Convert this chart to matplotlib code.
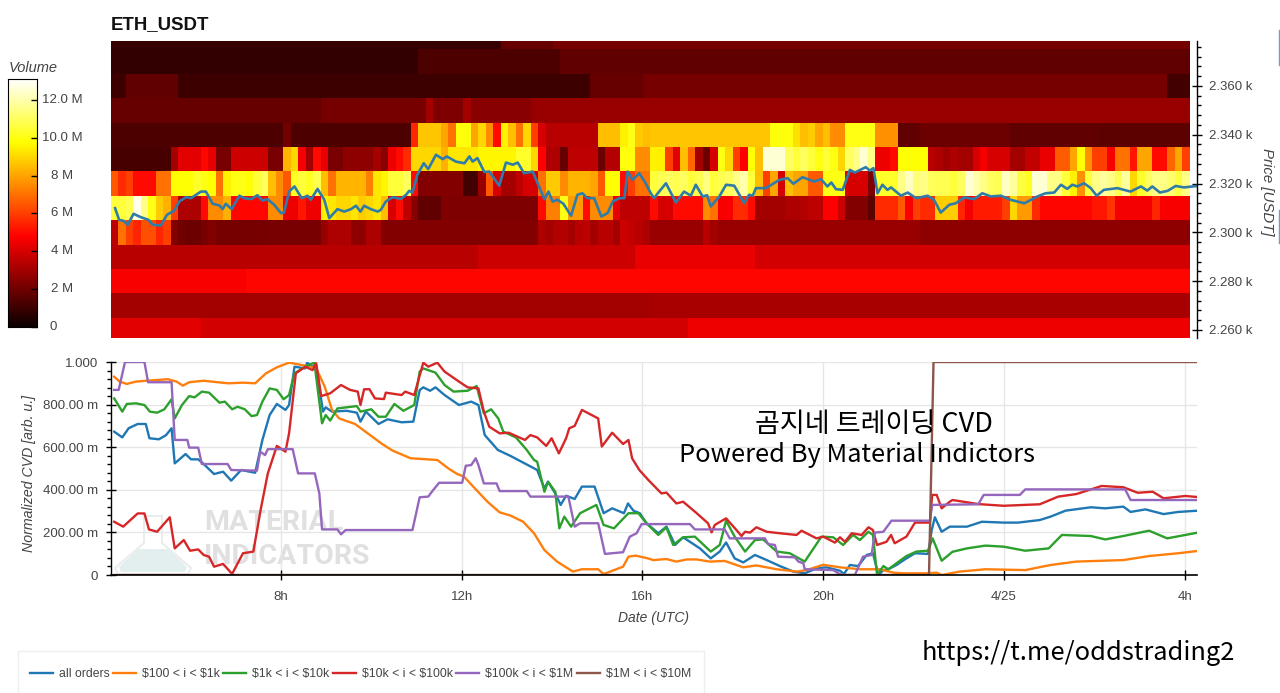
import numpy as np
import matplotlib
matplotlib.use("Agg")
import matplotlib.pyplot as plt
from matplotlib.lines import Line2D
from matplotlib.patches import Polygon, Rectangle
from matplotlib.ticker import MultipleLocator

W, H = 1280, 693
plt.rcParams['font.family'] = ['Liberation Sans', 'DejaVu Sans']

# --- heatmap volumes, in millions, one row per price level, one value per 10 min
price_levels = [2260, 2270, 2280, 2290, 2300, 2310, 2320, 2330, 2340, 2350, 2360, 2370, 2380]

vol_2380 = [0.9]*52 + [1.8]*7 + [2.1]*85
vol_2370 = [0.8]*41 + [1.3]*19 + [1.7]*84
vol_2360 = [1.0]*2 + [1.7]*7 + [1.0]*55 + [1.8]*7 + [2.1]*70 + [1.1]*3
vol_2350 = [1.8]*28 + [2.1]*14 + [3.0] + [2.3]*4 + [3.0] + [2.5]*8 + [2.8]*88
vol_2340 = ([1.3]*23 + [2.0] + [1.3]*12
            + [1.3, 1.3, 1.3, 1.3, 5.5, 8.6, 8.6, 8.6, 8.0, 7.0, 9.9, 9.9, 8.0, 9.0, 7.5, 5.0, 9.5, 8.5,
               7.0, 9.0, 6.0, 4.0] + [3.4]*7 + [8.5, 8.5, 8.5, 9.5, 10, 8.7, 8.5]
            + [8.6]*16 + [9.9, 9.9, 9.9, 9.2, 8.5, 8.8, 8.0, 8.5, 7.5, 7.5, 10, 10, 10, 10, 7.6, 7.6, 7.6, 1.7, 1.7, 1.7]
            + [1.9]*12 + [1.7]*12 + [1.6]*12)
vol_2330 = ([1.2]*8 + [3, 4.2, 4.2, 4.2, 4.9, 4.3, 2.2, 2.2] + [3.8]*5
            + [2.2, 2.2, 8.3, 9, 4.6, 3.0, 5, 4.3, 2.2, 2.2, 2.6, 2.6, 2.6, 2.6, 3.0]
            + [2.5, 4.5, 5, 5.6, 9, 9, 9, 9, 8.2, 9.3, 9.3, 9.3, 9.3] + [9.6]*5
            + [10.3, 10.3, 9, 4.8, 3.2, 3.2, 1.8, 3.5, 3.5, 3.5, 3.5, 1.9, 3.3, 3.3, 9.9, 9.9, 7.5, 7.5]
            + [9.5, 9.5, 6, 4.2, 8.5, 6.8, 3, 1.9, 4, 10, 9, 6, 4.8, 9.8, 8.5, 12.5, 12.5, 12.5,
               11, 10.5, 11, 10.5, 10, 10.5, 10, 9, 11, 11.5, 12.5, 11.5, 4.5, 4.5, 5, 9.8, 9.8, 9.8]
            + [9.8, 3.4, 3.2, 2.9, 3.2, 3.0, 3.0, 4, 4.6, 4, 4, 4, 3, 3, 3.6, 3.6, 4.4, 4.4,
               6.6, 6.6, 8, 9.8, 7.6, 6, 6, 4.7, 7, 7, 5.2, 8, 8, 5, 5, 6.8, 8, 6])
vol_2320 = ([6.5, 5.6, 6, 5, 5, 5, 7, 7, 9.8, 9.8, 9.8, 10.3, 10, 9.8, 7, 9.5, 10, 10,
             9.8, 10.5, 11, 8.5, 7.5, 6.5, 10.2, 10.5, 10.2, 10.8, 8.5, 7, 8.3, 8.3, 8.3, 8.3, 7.3, 9.3]
            + [9.6, 10.5, 10.5, 11, 5] + [2.4]*6
            + [1.1, 1.1, 2.8, 6.5, 4, 3, 3, 3.5, 4, 4, 7, 8.7, 8.7, 7.5, 8.3, 8.3, 8.3, 8, 6.5, 9.8, 9.8, 5, 6, 7, 7]
            + [10.5, 10.8, 11, 10.8, 11, 10.5, 10.8, 11.5, 10.5, 10.8, 11, 11.5, 12, 10.5, 8.5, 6, 8, 4,
               8.5, 8, 8, 6.5, 6.5, 10, 10, 10, 4, 4, 4, 2.3, 10.3, 10.3, 10.3, 11.5, 12.3, 11.3]
            + [11.5, 11, 10.8, 10.8, 10.5, 11, 12.5, 12, 11.5, 11, 10.8, 12.3, 11.8, 10.6, 10.2, 12.5, 12.5, 11.5,
               11.5, 10.5, 9.5, 7.6, 10.5, 11.5, 11.8, 11.5, 10.8, 11.8, 9, 10.3, 11, 11.5, 11.5, 11.2, 10.6, 11.5])
vol_2310 = ([10.5, 10.5, 10.8, 12.8, 11.5, 10, 8.7, 8.2, 6, 3.2, 3.2, 3.2, 5, 7.5, 7.5, 8.2] + [4.9]*5
            + [7.5, 7.5, 4.5, 4.5, 5.2, 4.5, 4.5, 9.5, 9.3, 9, 9, 9.3, 8.8, 9, 9.3]
            + [8.5, 4, 5, 3.5, 2.5, 1.7, 1.7, 1.7] + [2.3]*13
            + [5, 7.3, 7.3, 10, 7.8, 7.8, 5, 7.5, 7.5, 7.5, 4.3, 3.5, 3.5, 3.5, 3.5]
            + [5, 4, 4, 5, 5, 5, 5, 7.5, 7, 4.7, 4.7, 5.6, 5.6, 5, 3, 3, 3, 3, 3.2, 3.2, 3.3, 3.5, 3.5,
               4.8, 4.8, 3.8, 2.4, 2.4, 2.4, 1.6, 5.6, 5.6, 5.6, 6.5, 4.7, 6]
            + [5.6, 5.6, 8.8, 8.8, 8.8, 5.5, 4.6, 5.3, 5.3, 5.3, 5.3, 6, 9, 7.8, 7.8, 5.6] + [4.9]*7
            + [5.2, 5.2, 5.8] + [4.6]*5 + [5.5] + [4.7]*4)
vol_2300 = ([3.5, 7, 6, 5.5, 6.3, 6.3, 5.5, 6, 2.4, 2, 1.9, 1.9, 2.2, 2.4] + [2.1]*7 + [2.2]*7
            + [2.8, 3.2, 3.2, 3.2, 2.6, 2.6, 3.2, 3.2]
            + [2.4]*21 + [3.2, 3.0, 3.3, 3.3, 3.0, 3.4, 3.5, 3.0, 3.4, 3.4, 3.0, 3.8, 3.6, 3.4, 3.2]
            + [2.8]*7 + [3.4, 3.0] + [2.8]*27 + [2.6]*36)
vol_2290 = [3.4]*49 + [3.8]*21 + [4.4]*16 + [3.9]*58
vol_2280 = [4.7]*18 + [4.9]*126
vol_2270 = [3.0]*72 + [3.1]*72
vol_2260 = [4.2]*12 + [3.9]*65 + [4.5]*67

# --- price line
price_hours = [4.33, 4.42, 4.52, 4.61, 4.74, 4.90, 5.07, 5.16, 5.34, 5.48, 5.64, 5.75, 5.90, 6.01, 6.23, 6.34,
               6.49, 6.64, 6.71, 6.78, 6.91, 7.08, 7.19, 7.34, 7.48, 7.59, 7.70, 7.85, 8.00, 8.07, 8.18, 8.30,
               8.46, 8.59, 8.66, 8.81, 8.96, 9.07, 9.25, 9.40, 9.55, 9.66, 9.76, 9.84, 9.99, 10.14,
               10.21, 10.32, 10.47, 10.65, 10.77, 10.84, 10.91, 11.02, 11.16, 11.26, 11.43, 11.58, 11.67, 11.87,
               12.06, 12.17, 12.24, 12.35, 12.50, 12.61, 12.83, 12.98, 13.13, 13.24, 13.38, 13.57, 13.68, 13.83,
               13.92, 14.01, 14.12, 14.25, 14.42, 14.56, 14.67, 14.78, 14.93, 15.09, 15.23, 15.34, 15.49, 15.60,
               15.67, 15.78, 15.93, 16.07, 16.19, 16.26, 16.33, 16.52, 16.74, 16.92, 17.07, 17.18, 17.33, 17.43,
               17.51, 17.70, 17.85, 18.03, 18.25, 18.36, 18.44, 18.51, 18.73, 19.03, 19.21, 19.34, 19.54, 19.80,
               19.95, 20.09, 20.18, 20.28, 20.43, 20.59, 20.70, 20.94, 21.03, 21.11, 21.20, 21.31, 21.42, 21.50,
               21.72, 21.87, 22.05, 22.16, 22.31, 22.45, 22.60, 22.79, 22.93, 23.12, 23.34, 23.52, 23.71, 23.93,
               24.15, 24.45, 24.74, 24.92, 25.11, 25.26, 25.40, 25.51, 25.62, 25.77, 25.92, 26.05, 26.21, 26.51,
               26.80, 27.03, 27.17, 27.28, 27.45, 27.62, 27.80, 27.98, 28.27]
price_usdt = [2309.9, 2305.1, 2304.7, 2303.1, 2307.6, 2306.2, 2305.1, 2303.1, 2302.8, 2307.2, 2308.9, 2312.6,
              2314.4, 2314.0, 2316.7, 2316.7, 2311.7, 2311.0, 2309.5, 2311.7, 2309.5, 2315.0, 2314.0, 2313.6,
              2315.2, 2313.0, 2313.6, 2311.3, 2307.9, 2308.1, 2316.7, 2318.8, 2314.0, 2315.0, 2313.3, 2317.8,
              2313.3, 2305.8, 2309.5, 2308.5, 2309.5, 2310.9, 2308.5, 2310.9, 2309.5, 2308.5,
              2309.2, 2312.6, 2314.4, 2313.7, 2315.4, 2317.0, 2316.3, 2323.6, 2328.3, 2325.9, 2331.8, 2330.0,
              2331.1, 2329.0, 2328.3, 2331.1, 2329.0, 2330.4, 2324.7, 2324.9, 2319.1, 2328.6, 2327.7, 2328.6,
              2324.2, 2324.9, 2320.1, 2313.6, 2316.7, 2312.6, 2313.3, 2311.7, 2306.8, 2315.4, 2316.0, 2314.0,
              2314.0, 2306.5, 2307.9, 2312.6, 2314.0, 2314.0, 2324.9, 2321.5, 2324.2, 2320.1, 2315.8, 2314.0,
              2315.8, 2320.1, 2312.2, 2316.7, 2315.0, 2319.5, 2314.7, 2315.2, 2310.6, 2314.7, 2319.5, 2319.1,
              2312.0, 2315.4, 2315.0, 2318.1, 2318.1, 2321.5, 2322.2, 2319.9, 2322.6, 2320.8, 2321.8, 2318.8,
              2320.4, 2317.7, 2317.4, 2325.6, 2324.5, 2326.7, 2325.3, 2326.3, 2316.0, 2319.5, 2317.4, 2318.4,
              2315.0, 2316.3, 2314.0, 2314.4, 2315.0, 2313.3, 2308.1, 2311.3, 2311.9, 2314.3, 2313.6, 2316.0,
              2314.7, 2315.0, 2313.3, 2311.9, 2314.7, 2316.0, 2316.3, 2319.5, 2317.8, 2319.5, 2318.8, 2320.1,
              2318.1, 2315.0, 2317.4, 2318.1, 2316.7, 2318.8, 2317.1, 2318.8, 2316.3, 2317.0, 2319.0, 2318.4, 2319.0]

# --- normalized CVD series
all_hours = [4.31, 4.49, 4.63, 4.83, 5.01, 5.09, 5.3, 5.46, 5.58, 5.65, 5.89, 6.01, 6.17, 6.29, 6.52, 6.72, 6.9,
             7.12, 7.43, 7.59, 7.75, 7.91, 8.1, 8.18, 8.3, 8.54, 8.58, 8.7, 8.78, 8.93, 8.99, 9.13, 9.45, 9.68,
             9.76, 9.88, 10.16, 10.36, 10.67, 10.93, 11.07, 11.15, 11.3, 11.42, 11.62, 11.94, 12.21, 12.37, 12.51,
             12.8, 13.08, 13.67, 13.83, 13.91, 14.07, 14.19, 14.31, 14.5, 14.66, 14.94, 15.14, 15.33, 15.59, 15.68,
             15.8, 15.94, 16.09, 16.35, 16.53, 16.72, 16.9, 17.27, 17.51, 17.71, 17.85, 18.04, 18.23, 18.49, 18.75,
             19.04, 19.34, 19.59, 19.85, 20.07, 20.37, 20.46, 20.59, 20.77, 20.96, 21.1, 21.22, 21.33, 21.44, 21.62,
             21.84, 22.03, 22.32, 22.4, 22.47, 22.62, 22.8, 22.86, 23.18, 23.51, 23.99, 24.31, 24.79, 25.03, 25.36,
             25.92, 26.24, 26.64, 26.8, 27.13, 27.53, 27.85, 28.29]
all_cvd = [.673, .646, .689, .709, .709, .642, .637, .657, .689, .524, .568, .543, .543, .521, .474, .485, .443,
           .493, .480, .634, .751, .803, .775, .798, .978, .970, .997, .978, .986, .767, .787, .767, .771, .762,
           .720, .767, .709, .731, .717, .720, .868, .881, .865, .881, .845, .798, .814, .798, .657,
           .587, .559, .493, .407, .438, .383, .329, .372, .357, .415, .415, .290, .313, .290, .336,
           .302, .290, .243, .196, .227, .141, .177, .125, .078, .110, .153, .078, .059, .094, .070,
           .042, .016, .008, .031, .036, .020, .005, .047, .042, .094, .102, .000, .023, .027, .047,
           .078, .102, .099, .211, .271, .203, .227, .227, .227, .250, .246, .246, .258, .274, .302,
           .318, .313, .321, .296, .308, .286, .296, .302]

small_hours = [4.31, 4.43, 4.59, 4.79, 5.02, 5.5, 5.69, 5.83, 5.97, 6.29, 6.6, 6.84, 7.16, 7.43, 7.67, 7.91, 8.18,
               8.46, 8.66, 8.78, 8.97, 9.13, 9.29, 9.64, 9.92, 10.24, 10.47, 10.87, 11.46, 11.7, 11.9, 12.05, 12.29,
               12.57, 12.84, 13.08, 13.36, 13.6, 13.83, 14.11, 14.46, 14.66, 15.02, 15.14, 15.37, 15.57, 15.69, 15.85,
               16.12, 16.24, 16.53, 16.75, 16.98, 17.2, 17.49, 17.82, 18.23, 18.52, 18.97, 19.41, 19.63, 20.0, 20.37,
               20.81, 21.25, 21.55, 21.77, 22.28, 22.51, 22.62, 23.02, 23.59, 24.47, 25.03, 25.6, 26.64, 27.21, 27.85, 28.29]
small_cvd = [.931, .908, .897, .908, .912, .919, .908, .889, .905, .912, .905, .900, .903, .900, .947, .975, .997,
             .986, .978, .970, .884, .775, .735, .709, .665, .615, .584, .548, .540, .501, .474, .462, .407,
             .344, .294, .279, .250, .196, .117, .063, .016, .027, .027, .004, .023, .039, .086, .091,
             .078, .070, .075, .063, .073, .073, .063, .066, .036, .045, .027, .016, .023, .048, .036,
             .027, .027, .011, .008, .008, .011, .000, .016, .027, .023, .047, .063, .070, .089, .102, .113]

mid_hours = [4.31, 4.49, 4.59, 4.79, 4.98, 5.1, 5.26, 5.42, 5.58, 5.65, 5.81, 5.97, 6.09, 6.25, 6.41, 6.64, 6.76,
             6.92, 7.04, 7.2, 7.35, 7.47, 7.59, 7.75, 7.91, 8.06, 8.18, 8.3, 8.54, 8.74, 8.91, 8.99, 9.09, 9.25,
             9.68, 9.76, 10, 10.16, 10.32, 10.51, 10.71, 10.95, 11.07, 11.15, 11.42, 11.62, 11.82, 12.13, 12.33,
             12.49, 12.65, 12.81, 12.92, 13.2, 13.44, 13.6, 13.67, 13.83, 13.91, 14.07, 14.16, 14.27, 14.42, 14.62,
             14.98, 15.14, 15.37, 15.49, 15.69, 15.91, 16.09, 16.35, 16.53, 16.68, 16.9, 17.16, 17.51, 17.71, 17.85,
             18.04, 18.27, 18.49, 18.67, 18.97, 19.26, 19.59, 19.96, 20.22, 20.44, 20.66, 20.81, 21.0, 21.1, 21.19,
             21.33, 21.44, 21.62, 21.84, 22.06, 22.32, 22.42, 22.62, 22.86, 23.18, 23.59, 23.99, 24.47, 24.99,
             25.28, 25.92, 26.24, 26.64, 27.21, 27.61, 28.29]
mid_cvd = [.829, .767, .803, .806, .798, .767, .762, .778, .825, .735, .798, .840, .834, .861, .856, .809, .814,
           .778, .790, .778, .746, .751, .814, .876, .869, .825, .845, .947, .978, .997, .712, .751, .725, .782,
           .793, .767, .778, .743, .743, .803, .771, .798, .955, .970, .950, .892, .861, .865, .887,
           .759, .778, .735, .673, .646, .587, .540, .532, .391, .438, .391, .219, .274, .227, .290,
           .329, .235, .219, .246, .290, .290, .243, .188, .224, .141, .177, .180, .110, .141, .255,
           .180, .110, .164, .167, .110, .102, .063, .180, .177, .141, .188, .164, .203, .188, .000,
           .042, .027, .055, .089, .110, .114, .172, .067, .109, .125, .138, .133, .114, .125,
           .188, .183, .167, .183, .208, .172, .199]

large_hours = [4.31, 4.51, 4.67, 4.83, 4.98, 5.08, 5.26, 5.54, 5.65, 5.85, 5.99, 6.17, 6.29, 6.41, 6.52, 6.72, 6.92,
               7.16, 7.39, 7.55, 7.71, 7.91, 8.1, 8.18, 8.33, 8.54, 8.7, 8.78, 8.89, 9.09, 9.33, 9.53, 9.7, 9.76,
               9.84, 9.96, 10.08, 10.28, 10.32, 10.67, 10.75, 10.95, 11.15, 11.26, 11.46, 11.62, 11.94, 12.13, 12.37,
               12.49, 12.61, 12.84, 13.04, 13.4, 13.52, 13.67, 13.87, 13.99, 14.15, 14.31, 14.38, 14.5, 14.66, 15.02,
               15.1, 15.33, 15.57, 15.69, 15.77, 15.93, 16.13, 16.42, 16.53, 16.75, 16.9, 17.2, 17.45, 17.53, 17.6,
               17.85, 18.08, 18.19, 18.27, 18.38, 18.52, 18.75, 19.04, 19.41, 19.52, 19.85, 20.0, 20.26, 20.37, 20.48,
               20.63, 20.85, 21.0, 21.1, 21.19, 21.4, 21.5, 21.58, 21.84, 22.03, 22.36, 22.41, 22.51, 22.62, 22.8,
               22.86, 23.43, 23.99, 24.79, 25.2, 25.6, 26.16, 26.64, 26.96, 27.29, 27.53, 28.01, 28.29]
large_cvd = [.250, .227, .258, .289, .289, .214, .203, .271, .125, .164, .114, .120, .094, .086, .039, .052, .005,
             .102, .110, .305, .477, .606, .579, .665, .947, .978, .962, .994, .840, .853, .892, .869, .861, .798,
             .872, .872, .829, .826, .856, .845, .861, .845, .997, .978, .997, .955, .908, .881, .876,
             .767, .696, .665, .668, .634, .657, .646, .606, .642, .571, .642, .689, .700, .775, .735,
             .603, .668, .615, .634, .548, .493, .446, .383, .387, .336, .344, .290, .243, .200, .235,
             .266, .211, .183, .203, .199, .224, .203, .196, .188, .208, .172, .180, .152, .177, .156,
             .196, .188, .224, .211, .141, .156, .188, .149, .180, .246, .246, .376, .376, .313, .344,
             .352, .333, .325, .332, .368, .380, .418, .412, .386, .391, .360, .371, .366]

whale_hours = [4.31, 4.41, 4.55, 4.98, 5.06, 5.58, 5.65, 5.93, 5.97, 6.17, 6.25, 6.82, 6.9, 7.47, 7.54, 7.65, 7.71,
               8.26, 8.38, 8.75, 8.85, 8.91, 9.25, 9.33, 9.43, 10.91, 11.07, 11.26, 11.34, 11.5, 12.01, 12.09, 12.21,
               12.31, 12.37, 12.49, 12.77, 12.84, 13.44, 13.52, 14.36, 14.5, 14.62, 15.02, 15.17, 15.57, 15.72, 15.87,
               15.98, 17.05, 17.16, 17.82, 17.93, 18.71, 18.78, 18.93, 19.0, 19.37, 19.45, 19.56, 19.59, 20.22, 20.4,
               20.7, 20.88, 21.07, 21.14, 21.33, 21.51, 22.36, 22.41, 23.43, 23.55, 24.35, 24.47, 26.68, 26.8, 28.29]
whale_cvd = [.869, .869, 1.0, 1.0, .905, .905, .634, .634, .598, .598, .521, .521, .493, .490, .579, .563, .591,
             .591, .477, .477, .383, .214, .214, .191, .211, .211, .365, .368, .391, .433, .433, .513, .516,
             .548, .516, .430, .430, .394, .394, .368, .368, .227, .243, .243, .099, .107, .180, .196,
             .239, .239, .214, .214, .172, .172, .145, .141, .086, .083, .063, .055, .027, .023, .000,
             .000, .086, .094, .199, .203, .255, .255, .329, .332, .376, .376, .402, .402, .352, .352]

mega_hours = [4.31, 22.34, 22.44, 28.29]
mega_cvd = [0, 0, 1, 1]

series_labels = ["all orders", "\\$100 < i < \\$1k", "\\$1k < i < \\$10k", "\\$10k < i < \\$100k",
                 "\\$100k < i < \\$1M", "\\$1M < i < \\$10M"]
series_colors = ["#1f77b4", "#ff7f0e", "#2ca02c", "#d62728", "#9467bd", "#8c564b"]

time_ticks = [8, 12, 16, 20, 24, 28]
time_labels = ["8h", "12h", "16h", "20h", "4/25", "4h"]
cvd_ticks = [0, 0.2, 0.4, 0.6, 0.8, 1.0]
cvd_labels = ["0", "200.00 m", "400.00 m", "600.00 m", "800.00 m", "1.000"]
colorbar_ticks = [0, 2, 4, 6, 8, 10, 12]
colorbar_labels = ["0", "2 M", "4 M", "6 M", "8 M", "10.0 M", "12.0 M"]
TEXT = "#444444"
XLIM = (4.24, 28.27)


def px_axes(fig, left, top, right, bottom):
    return fig.add_axes([left / W, 1 - bottom / H, (right - left) / W, (bottom - top) / H])


def px_points(points):
    return [(x / W, 1 - y / H) for x, y in points]


fig = plt.figure(figsize=(12.8, 6.93), dpi=100, facecolor="white")

# Heatmap with price
ax = px_axes(fig, 111, 41, 1197, 338)
volumes = np.array([vol_2260, vol_2270, vol_2280, vol_2290, vol_2300, vol_2310, vol_2320,
                    vol_2330, vol_2340, vol_2350, vol_2360, vol_2370, vol_2380])
x_edges = np.linspace(4.24, 28.11, volumes.shape[1] + 1)
y_edges = np.array(price_levels + [price_levels[-1] + 10]) - 5
ax.pcolormesh(x_edges, y_edges, volumes, cmap="hot", vmin=0, vmax=13.1, rasterized=True)
ax.plot(price_hours, price_usdt, color="#2f7cab", lw=1.9)
ax.set_xlim(XLIM)
ax.set_ylim(2256.7, 2378.4)
ax.xaxis.set_visible(False)
ax.yaxis.tick_right()
ax.yaxis.set_major_locator(MultipleLocator(20))
ax.yaxis.set_minor_locator(MultipleLocator(4))
ax.yaxis.set_major_formatter(lambda v, pos: f"{v / 1000:.3f} k")
ax.tick_params(axis="y", which="major", direction="inout", length=7, width=1, pad=5,
               labelsize=9.5, labelcolor=TEXT)
ax.tick_params(axis="y", which="minor", direction="out", length=3, width=1)
for side in ("top", "left", "bottom"):
    ax.spines[side].set_visible(False)
ax.spines["right"].set_linewidth(1)
fig.text(111 / W, 1 - 25 / H, "ETH_USDT", fontsize=13.4, fontweight="bold", va="center", color="#111111")
fig.text(1267 / W, 1 - 192 / H, "Price [USDT]", rotation=270, style="italic", fontsize=10.8,
         color=TEXT, ha="center", va="center")

# Colorbar
cax = px_axes(fig, 8, 79, 37, 327)
cax.imshow(np.linspace(13.1, 0, 256)[:, None], cmap="hot", vmin=0, vmax=13.1, aspect="auto",
           extent=(0, 1, 0, 13.1))
cax.set_xticks([])
cax.set_yticks(colorbar_ticks)
cax.set_yticklabels([])
cax.yaxis.tick_right()
cax.tick_params(axis="y", direction="in", length=4, width=1)
for v, lab in zip(colorbar_ticks, colorbar_labels):
    off = 16 if lab == "0" else 25
    cax.annotate(lab, (1, v), xytext=(off * 0.72, 0), textcoords="offset points", xycoords=("axes fraction", "data"),
                 ha="center", va="center", fontsize=9.5, color=TEXT)
fig.text(9 / W, 1 - 68 / H, "Volume", style="italic", fontsize=10.5, color=TEXT, va="center")

# CVD panel, kept above the watermark
bx = px_axes(fig, 111, 362, 1197, 575)
bx.set_zorder(2)
bx.patch.set_alpha(0)
bx.grid(True, color="#e6e6e6", lw=1)
bx.set_axisbelow(True)

for i, word in enumerate(["MATERIAL", "INDICATORS"]):
    fig.text(204 / W, 1 - (523 + 34 * i) / H, word, fontsize=20.5, fontweight="bold", color="#e0e0e0",
             va="center", family=["Roboto", "DejaVu Sans"], zorder=0.5)
fig.add_artist(Polygon(px_points([(144, 516), (162, 516), (162, 543), (191, 568), (188, 574), (118, 574),
                                  (115, 568), (144, 543)]),
                       closed=True, transform=fig.transFigure, fc="none", ec="#ececec", lw=1.5, zorder=0.5))
fig.add_artist(Polygon(px_points([(138, 549), (168, 549), (187, 567), (185, 572), (121, 572), (119, 567)]),
                       closed=True, transform=fig.transFigure, fc="#e3eeee", ec="none", zorder=0.5))

cvd_lines = []
cvd_data = [(all_hours, all_cvd), (small_hours, small_cvd), (mid_hours, mid_cvd),
            (large_hours, large_cvd), (whale_hours, whale_cvd), (mega_hours, mega_cvd)]
for (hours, cvd), color, label in zip(cvd_data, series_colors, series_labels):
    cvd_lines.append(bx.plot(hours, cvd, color=color, lw=1.7, label=label)[0])
bx.set_xlim(XLIM)
bx.set_ylim(0, 1)
bx.set_xticks(time_ticks, time_labels)
bx.set_yticks(cvd_ticks, cvd_labels)
bx.yaxis.set_minor_locator(MultipleLocator(0.04))
bx.tick_params(axis="both", which="major", direction="inout", length=7, width=1, pad=6,
               labelsize=9.5, labelcolor=TEXT)
bx.tick_params(axis="x", which="major", pad=8)
bx.tick_params(axis="y", which="minor", direction="out", length=3, width=1)
for side in ("top", "right"):
    bx.spines[side].set_visible(False)
bx.spines["left"].set_linewidth(1)
bx.spines["bottom"].set_linewidth(1.2)
fig.text(654 / W, 1 - 618 / H, "Date (UTC)", style="italic", fontsize=10, color=TEXT, ha="center", va="center")
fig.text(29 / W, 1 - 473 / H, "Normalized CVD [arb. u.]", style="italic", fontsize=10.2, rotation=90,
         color=TEXT, ha="center", va="center")

# Overlaid captions
cjk = ["Noto Sans CJK KR", "DejaVu Sans"]
fig.text(874 / W, 1 - 425 / H, "곰지네 트레이딩 CVD", family=cjk, fontsize=19.5, color="black",
         ha="center", va="center", zorder=10)
fig.text(857 / W, 1 - 455 / H, "Powered By Material Indictors", family=cjk, fontsize=18.3, color="black",
         ha="center", va="center", zorder=10)
fig.text(1078 / W, 1 - 653 / H, "https://t.me/oddstrading2", family=cjk, fontsize=18.3, color="black",
         ha="center", va="center", zorder=10)

# Legend, cut by the bottom edge as in the screenshot
fig.add_artist(Rectangle((18 / W, -0.01), 686 / W, 1 - 651 / H + 0.01, transform=fig.transFigure,
                         fc="white", ec="#eeeeee", lw=1))
fig.legend(handles=cvd_lines, labels=series_labels, loc="center left", bbox_to_anchor=(30 / W, 1 - 674 / H),
           ncols=6, frameon=False, fontsize=8.8, handlelength=1.85, handletextpad=0.5, columnspacing=0.3,
           borderpad=0, borderaxespad=0, labelcolor=TEXT)

# sliver of a side panel at the right edge
for y0, y1 in [(30, 65), (210, 243)]:
    fig.add_artist(Line2D([1279 / W, 1279 / W], [1 - y0 / H, 1 - y1 / H], color="#5aa7c7", lw=1,
                          transform=fig.transFigure))

fig.savefig("out.png", dpi=100)
